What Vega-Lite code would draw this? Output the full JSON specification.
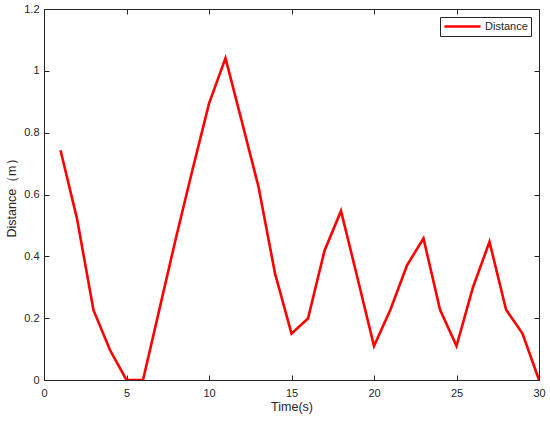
{
  "$schema": "https://vega.github.io/schema/vega-lite/v6.json",
  "width": 495,
  "height": 371,
  "autosize": "none",
  "padding": {"left": 44, "top": 9, "right": 11, "bottom": 43},
  "background": "white",
  "config": {
    "font": "Liberation Sans",
    "view": {"stroke": "#262626", "strokeWidth": 1},
    "axis": {
      "grid": false,
      "domain": false,
      "tickColor": "#262626",
      "tickSize": -5,
      "labelColor": "#262626",
      "labelFontSize": 11,
      "labelFlush": false,
      "labelOverlap": false,
      "titleColor": "#262626",
      "titleFontSize": 12.5,
      "titleFontWeight": "normal",
      "labelFont": "Liberation Sans",
      "titleFont": "Liberation Sans"
    }
  },
  "data": {
    "values": [
      {"t": 1, "d": 0.743}, {"t": 2, "d": 0.522}, {"t": 3, "d": 0.226}, {"t": 4, "d": 0.097},
      {"t": 5, "d": 0}, {"t": 6, "d": 0}, {"t": 7, "d": 0.23}, {"t": 8, "d": 0.46},
      {"t": 9, "d": 0.68}, {"t": 10, "d": 0.894}, {"t": 11, "d": 1.041}, {"t": 12, "d": 0.834},
      {"t": 13, "d": 0.625}, {"t": 14, "d": 0.345}, {"t": 15, "d": 0.15}, {"t": 16, "d": 0.199},
      {"t": 17, "d": 0.418}, {"t": 18, "d": 0.547}, {"t": 19, "d": 0.33}, {"t": 20, "d": 0.11},
      {"t": 21, "d": 0.228}, {"t": 22, "d": 0.371}, {"t": 23, "d": 0.458}, {"t": 24, "d": 0.228},
      {"t": 25, "d": 0.11}, {"t": 26, "d": 0.3}, {"t": 27, "d": 0.447}, {"t": 28, "d": 0.228},
      {"t": 29, "d": 0.15}, {"t": 30, "d": 0}
    ]
  },
  "layer": [
    {
      "mark": {"type": "line", "strokeWidth": 2.6, "clip": true},
      "encoding": {
        "x": {
          "field": "t", "type": "quantitative",
          "scale": {"domain": [0, 30], "nice": false, "zero": false},
          "axis": {"values": [0, 5, 10, 15, 20, 25, 30], "format": "~g", "title": "Time(s)", "labelPadding": 12, "titlePadding": 2}
        },
        "y": {
          "field": "d", "type": "quantitative",
          "scale": {"domain": [0, 1.2], "nice": false},
          "axis": {"values": [0, 0.2, 0.4, 0.6, 0.8, 1, 1.2], "format": "~g", "title": "Distance（m）", "labelPadding": 10, "titlePadding": 5}
        },
        "color": {
          "datum": "Distance",
          "scale": {"range": ["#ff0000"]},
          "legend": {
            "title": null,
            "orient": "none",
            "legendX": 396,
            "legendY": 8,
            "direction": "vertical",
            "fillColor": "white",
            "strokeColor": "#262626",
            "padding": 3,
            "clipHeight": 13,
            "symbolType": "stroke",
            "symbolSize": 1300,
            "symbolStrokeWidth": 2.6,
            "labelFontSize": 11,
            "labelColor": "#262626",
            "labelOffset": 3
          }
        }
      }
    },
    {
      "mark": {"type": "line", "opacity": 0},
      "encoding": {
        "x": {
          "field": "t", "type": "quantitative",
          "scale": {"domain": [0, 30], "nice": false, "zero": false},
          "axis": {"orient": "top", "values": [0, 5, 10, 15, 20, 25, 30], "labels": false, "title": null}
        },
        "y": {
          "field": "d", "type": "quantitative",
          "scale": {"domain": [0, 1.2], "nice": false},
          "axis": {"orient": "right", "values": [0, 0.2, 0.4, 0.6, 0.8, 1, 1.2], "labels": false, "title": null}
        }
      }
    }
  ],
  "resolve": {"scale": {"x": "independent", "y": "independent"}}
}
